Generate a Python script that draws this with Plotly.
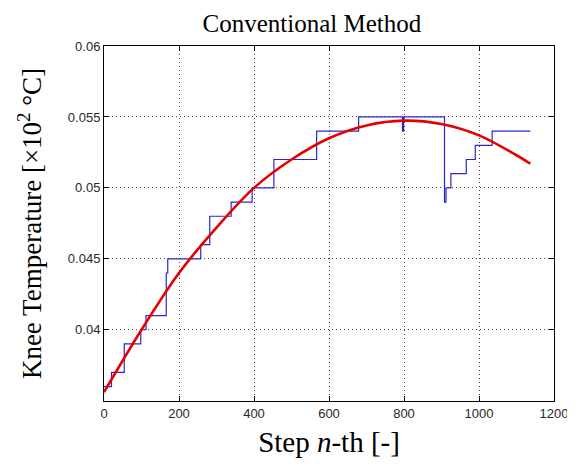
import plotly.graph_objects as go

# Staircase (measured) series: change points and levels
step_x = [0, 20, 54, 98, 112, 166, 170, 258, 282, 339, 395, 453, 567, 679,
          796, 799, 908, 912, 925, 966, 990, 1035, 1137]
step_y = [0.036, 0.037, 0.039, 0.040, 0.041, 0.044, 0.045, 0.046, 0.048, 0.049,
          0.050, 0.052, 0.054, 0.055, 0.054, 0.055, 0.049, 0.050, 0.051, 0.052,
          0.053, 0.054, 0.054]

# Fitted (red) curve
fit_x = [0, 100, 200, 300, 400, 500, 600, 700, 800, 900, 1000, 1100, 1137]
fit_y = [0.0356, 0.0400, 0.0440, 0.0472, 0.0500, 0.0520, 0.0535, 0.0544,
         0.05474, 0.0545, 0.0537, 0.0523, 0.0517]

x_ticks = [0, 200, 400, 600, 800, 1000, 1200]
y_ticks = [0.04, 0.045, 0.05, 0.055, 0.06]
y_ticktext = ["0.04", "0.045", "0.05", "0.055", "0.06"]

fig = go.Figure()
fig.add_trace(go.Scatter(x=step_x, y=step_y, mode="lines", line_shape="hv",
                         line=dict(color="rgb(40,40,205)", width=1.2),
                         showlegend=False, hoverinfo="skip"))
fig.add_trace(go.Scatter(x=fit_x, y=fit_y, mode="lines", line_shape="spline",
                         line=dict(color="rgb(230,0,0)", width=2.6),
                         showlegend=False, hoverinfo="skip"))

axis_common = dict(showline=True, linecolor="black", linewidth=1, mirror="ticks",
                   ticks="inside", ticklen=5, tickcolor="black",
                   showgrid=True, gridcolor="rgb(70,70,70)", griddash="1px,3px", gridwidth=1,
                   zeroline=False, automargin=False, ticklabeloverflow="allow",
                   tickfont=dict(family="Liberation Sans, Arial, sans-serif", size=13,
                                 color="rgb(40,40,40)"))

fig.update_xaxes(range=[0, 1200], tickvals=x_ticks,
                 title=dict(text="Step <i>n</i>-th [-]",
                            font=dict(family="Liberation Serif, Times New Roman, serif",
                                      size=29, color="black"), standoff=12),
                 **axis_common)
fig.update_yaxes(range=[0.03498, 0.06], tickvals=y_ticks, ticktext=y_ticktext,
                 title=dict(text="Knee Temperature [×10<sup>2</sup> °C]",
                            font=dict(family="Liberation Serif, Times New Roman, serif",
                                      size=27, color="black"), standoff=18),
                 **axis_common)

# The page body has an 8px margin, so the figure is placed 8px in from the top-left.
fig.update_layout(
    width=567, height=456,
    margin=dict(l=96, r=21, t=38, b=63),
    paper_bgcolor="white", plot_bgcolor="white",
    title=dict(text="Conventional Method", xref="paper", x=0.462, xanchor="center",
               y=1 - 15 / 456, yanchor="middle",
               font=dict(family="Liberation Serif, Times New Roman, serif",
                         size=25, color="black")),
)

fig.write_html("out.html")
